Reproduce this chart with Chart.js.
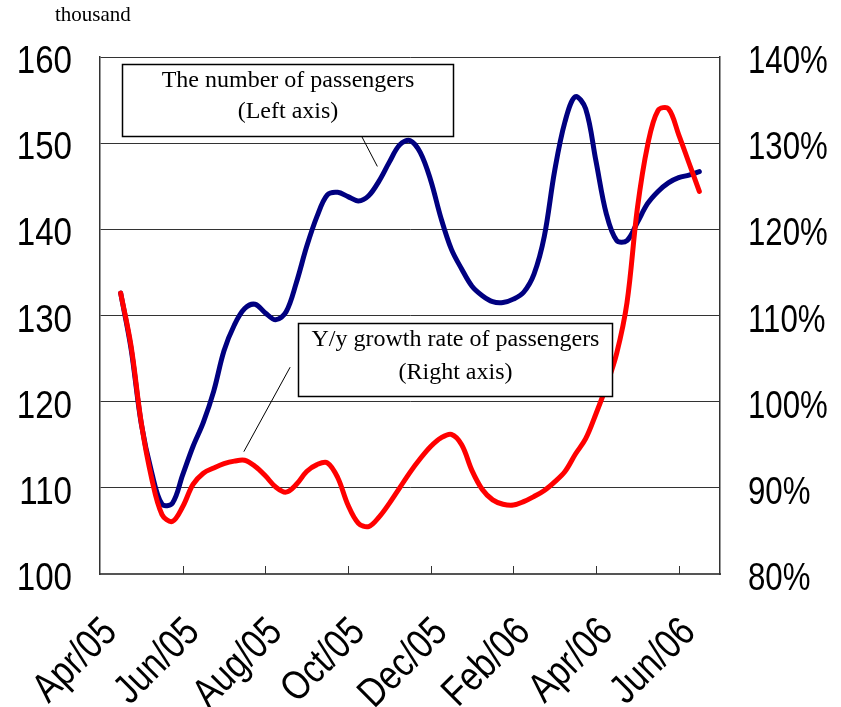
<!DOCTYPE html>
<html>
<head>
<meta charset="utf-8">
<script src="https://cdn.jsdelivr.net/npm/chart.js@4/dist/chart.umd.min.js"></script>
<style>
  html, body { margin: 0; padding: 0; background: #fff; }
  #wrap { width: 841px; height: 707px; }
</style>
</head>
<body>
<div id="wrap"><canvas id="c" width="841" height="707"></canvas></div>
<script>
// Axis labels (one every two months)
const tickLabels = ['Apr/05', 'Jun/05', 'Aug/05', 'Oct/05', 'Dec/05', 'Feb/06', 'Apr/06', 'Jun/06'];

// Number of passengers (thousand), sampled every quarter month from mid-Apr 2005 to mid-Jun 2006
const passengers = [
  132.6, 126.2, 117.4, 111.8, 108.1, 108.2, 111.5, 114.8, 117.6, 121.2,
  125.9, 128.9, 130.8, 131.3, 130.3, 129.5, 130.4, 133.8, 138.0, 141.5,
  144.0, 144.3, 143.8, 143.3, 143.9, 145.6, 147.8, 149.8, 150.3, 148.9,
  145.7, 141.3, 137.7, 135.4, 133.4, 132.3, 131.6, 131.5, 131.9, 132.7,
  134.8, 139.2, 146.8, 152.5, 155.4, 154.0, 147.9, 141.8, 138.7, 138.7,
  140.8, 143.0, 144.4, 145.4, 146.0, 146.3, 146.7
];

// Year-on-year growth rate of passengers (%), same sampling
const growthRate = [
  112.6, 106.5, 97.5, 91.1, 86.9, 86.1, 87.8, 90.4, 91.7, 92.3,
  92.8, 93.1, 93.2, 92.5, 91.4, 90.1, 89.5, 90.4, 91.9, 92.7,
  92.9, 91.2, 88.0, 85.9, 85.5, 86.6, 88.2, 90.0, 91.8, 93.4,
  94.8, 95.8, 96.2, 95.0, 92.0, 89.8, 88.6, 88.1, 88.0, 88.4,
  89.0, 89.7, 90.7, 91.9, 93.9, 95.7, 98.6, 101.8, 105.6, 111.5,
  122.4, 129.8, 133.8, 134.0, 131.0, 127.7, 124.4
];

// x is measured in months from 1 Apr 2005; the axis runs to 1 Jul 2006
const monthSpan = 15;
const firstSample = 0.5;
const sampleStep = 0.25;
const samplePos = passengers.map((_, i) => firstSample + i * sampleStep);

const sansFamily = "'Liberation Sans', Arial, sans-serif";
const serif = "'Liberation Serif', 'Times New Roman', serif";

// Callout boxes, placed in axis units (x: months, y: left axis)
const callouts = [
  { x0: 0.53, x1: 8.54, y0: 159.2, y1: 150.8,
    lines: ['The number of passengers', '(Left axis)'], textY: [157.3, 153.6],
    lead: [[6.33, 150.8], [6.71, 147.3]] },
  { x0: 4.78, x1: 12.38, y0: 129.1, y1: 120.7,
    lines: ['Y/y growth rate of passengers', '(Right axis)'], textY: [127.2, 123.4],
    lead: [[4.60, 124.0], [3.48, 114.2]] }
];

// short tick marks pointing into the plot at every second month boundary
const innerTicks = {
  id: 'innerTicks',
  beforeDatasetsDraw(chart) {
    const { ctx, chartArea, scales: { x } } = chart;
    ctx.save();
    ctx.strokeStyle = '#333';
    ctx.lineWidth = 1;
    for (let m = 2; m < monthSpan; m += 2) {
      const px = Math.round(x.getPixelForValue(m)) + 0.5;
      ctx.beginPath();
      ctx.moveTo(px, chartArea.bottom);
      ctx.lineTo(px, chartArea.bottom - 8);
      ctx.stroke();
    }
    ctx.restore();
  }
};

// narrow-set tick labels (horizontally condensed sans)
const axisLabels = {
  id: 'axisLabels',
  afterDraw(chart) {
    const { ctx, chartArea, scales: { x, y, y2 } } = chart;
    ctx.save();
    ctx.fillStyle = '#000';
    ctx.textBaseline = 'alphabetic';
    ctx.font = '39px ' + sansFamily;
    ctx.textAlign = 'right';
    y.ticks.forEach(t => {
      ctx.save();
      ctx.translate(chartArea.left - 28, y.getPixelForValue(t.value) + 16);
      ctx.scale(0.85, 1);
      ctx.fillText(t.label, 0, 0);
      ctx.restore();
    });
    ctx.textAlign = 'left';
    y2.ticks.forEach(t => {
      ctx.save();
      ctx.translate(chartArea.right + 28, y2.getPixelForValue(t.value) + 16);
      ctx.scale(0.8, 1);
      ctx.fillText(t.label, 0, 0);
      ctx.restore();
    });
    ctx.font = '41px ' + sansFamily;
    ctx.textAlign = 'right';
    x.ticks.forEach(t => {
      ctx.save();
      ctx.translate(x.getPixelForValue(t.value) - 2, chartArea.bottom + 60);
      ctx.rotate(-Math.PI / 4);
      ctx.scale(0.82, 1);
      ctx.fillText(t.label, 0, 0);
      ctx.restore();
    });
    ctx.restore();
  }
};

const calloutPlugin = {
  id: 'callouts',
  afterDatasetsDraw(chart) {
    const { ctx, chartArea, scales: { x, y } } = chart;
    ctx.save();
    callouts.forEach(c => {
      const l = Math.round(x.getPixelForValue(c.x0)) + 0.5;
      const r = Math.round(x.getPixelForValue(c.x1)) + 0.5;
      const t = Math.round(y.getPixelForValue(c.y0)) + 0.5;
      const b = Math.round(y.getPixelForValue(c.y1)) + 0.5;
      ctx.fillStyle = '#fff';
      ctx.fillRect(l, t, r - l, b - t);
      ctx.strokeStyle = '#000';
      ctx.lineWidth = 1.5;
      ctx.strokeRect(l, t, r - l, b - t);
      ctx.lineWidth = 1;
      ctx.beginPath();
      ctx.moveTo(x.getPixelForValue(c.lead[0][0]), y.getPixelForValue(c.lead[0][1]));
      ctx.lineTo(x.getPixelForValue(c.lead[1][0]), y.getPixelForValue(c.lead[1][1]));
      ctx.stroke();
      ctx.fillStyle = '#000';
      ctx.font = '24px ' + serif;
      ctx.textAlign = 'center';
      ctx.textBaseline = 'middle';
      c.lines.forEach((txt, i) => ctx.fillText(txt, (l + r) / 2, y.getPixelForValue(c.textY[i])));
    });
    // unit label above the left axis
    ctx.font = '21px ' + serif;
    ctx.textAlign = 'left';
    ctx.textBaseline = 'alphabetic';
    ctx.fillText('thousand', chartArea.left - 45, chartArea.top - 36);
    ctx.restore();
  }
};

new Chart(document.getElementById('c'), {
  type: 'line',
  data: {
    labels: samplePos,
    datasets: [
      { label: 'Y/y growth rate of passengers', data: growthRate, yAxisID: 'y2',
        borderColor: '#ff0000', borderWidth: 5, tension: 0.35, pointRadius: 0, order: 0,
        borderCapStyle: 'round', borderJoinStyle: 'round' },
      { label: 'The number of passengers', data: passengers, yAxisID: 'y',
        borderColor: '#000080', borderWidth: 5, tension: 0.35, pointRadius: 0, order: 1,
        borderCapStyle: 'round', borderJoinStyle: 'round' }
    ]
  },
  options: {
    responsive: false,
    animation: false,
    events: [],
    layout: { padding: { top: 57, left: 0, right: 0, bottom: 0 } },
    plugins: { legend: { display: false }, tooltip: { enabled: false }, title: { display: false } },
    scales: {
      x: {
        type: 'linear', min: 0, max: monthSpan,
        afterBuildTicks: s => { s.ticks = tickLabels.map((_, i) => ({ value: 2 * i + 0.5 })); },
        afterFit: s => { s.height = 133; s.paddingLeft = 0; s.paddingRight = 0; },
        grid: { display: false, drawTicks: false },
        border: { display: true, color: '#555', width: 2 },
        ticks: { display: false, autoSkip: false, callback: (v, i) => tickLabels[i] }
      },
      y: {
        position: 'left', min: 100, max: 160,
        afterFit: s => { s.width = 100; s.paddingTop = 0; s.paddingBottom = 0; },
        grid: { color: '#333', lineWidth: 1, drawTicks: false },
        border: { display: true, color: '#333', width: 1.5 },
        ticks: { display: false, stepSize: 10 }
      },
      y2: {
        position: 'right', min: 80, max: 140,
        afterFit: s => { s.width = 121; s.paddingTop = 0; s.paddingBottom = 0; },
        grid: { display: false, drawTicks: false },
        border: { display: true, color: '#333', width: 1.5 },
        ticks: { display: false, stepSize: 10, callback: v => v + '%' }
      }
    }
  },
  plugins: [innerTicks, calloutPlugin, axisLabels]
});
</script>
</body>
</html>
